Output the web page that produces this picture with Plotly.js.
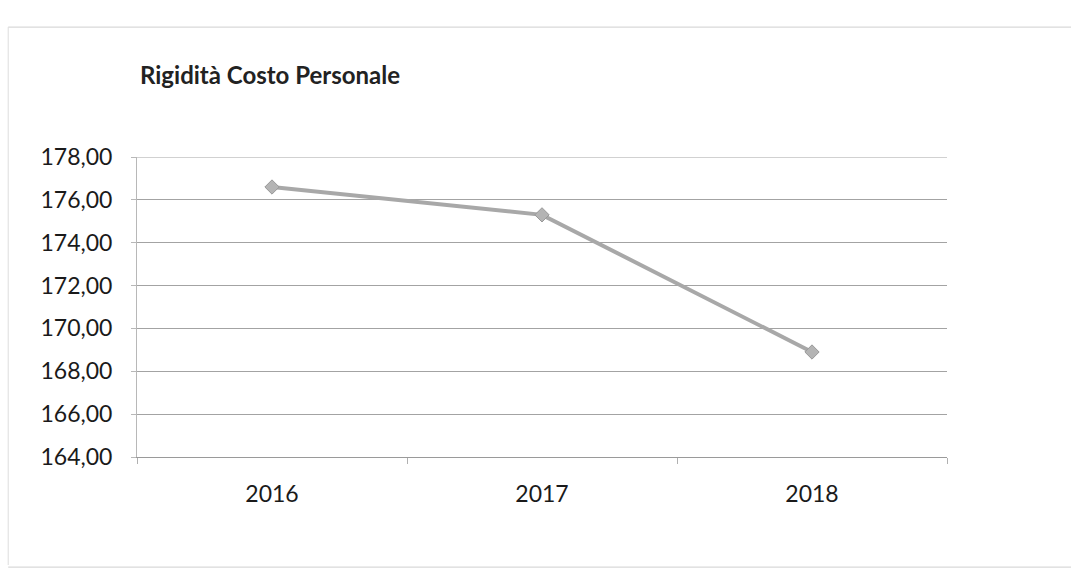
<!DOCTYPE html>
<html>
<head>
<meta charset="utf-8">
<script src="https://cdn.plot.ly/plotly-3.0.1.min.js"></script>
<style>html,body{margin:0;padding:0;background:#fff;}#chart{width:1071px;height:573px;}</style>
</head>
<body>
<div id="chart"></div>
<script>
const categories = ["2016", "2017", "2018"];
const values = [176.6, 175.3, 168.9];
const yTicks = [164, 166, 168, 170, 172, 174, 176, 178];
const chartTitle = "Rigidità Costo Personale";

const trace = {
  type: "scatter",
  mode: "lines+markers",
  x: categories,
  y: values,
  line: {color: "#a8a8a8", width: 4},
  marker: {symbol: "diamond", size: 11, color: "#b4b4b4", line: {color: "#999", width: 1}},
  hoverinfo: "x+y"
};

const fontFam = "Lato, 'Open Sans', sans-serif";
const layout = {
  width: 1071, height: 573,
  margin: {l: 137, r: 124, t: 157, b: 116},
  paper_bgcolor: "#ffffff",
  plot_bgcolor: "#ffffff",
  separators: ",.",
  showlegend: false,
  font: {family: fontFam, color: "#1a1a1a", size: 23},
  title: {
    text: "<b>" + chartTitle + "</b>",
    x: 140 / 1071, xref: "container", xanchor: "left",
    y: 0.868, yref: "container", yanchor: "middle",
    font: {family: fontFam, size: 24, color: "#222"}
  },
  xaxis: {
    type: "category",
    range: [-0.5, 2.5],
    showgrid: false,
    showline: true, linecolor: "#9a9a9a", linewidth: 1,
    ticks: "outside", tickson: "boundaries", ticklen: 6, tickcolor: "#b0b0b0",
    tickfont: {family: fontFam, size: 23, color: "#1a1a1a"},
    ticklabelstandoff: 16,
    zeroline: false
  },
  yaxis: {
    range: [164, 178],
    tickvals: yTicks,
    tickformat: ".2f",
    showgrid: true, gridcolor: "#a3a3a3", gridwidth: 1,
    showline: true, linecolor: "#b8b8b8", linewidth: 1,
    ticks: "outside", ticklen: 5, tickcolor: "#b8b8b8",
    tickfont: {family: fontFam, size: 23, color: "#1a1a1a"},
    ticklabelstandoff: 14,
    zeroline: false
  },
  shapes: [
    {type: "line", xref: "paper", yref: "y", x0: 0, x1: 1, y0: 178, y1: 178,
     line: {color: "#a3a3a3", width: 1}},
    {type: "line", xref: "paper", yref: "paper", x0: -0.159, x1: 1.2, y0: 1.433, y1: 1.433,
     line: {color: "#cfcfcf", width: 1}},
    {type: "line", xref: "paper", yref: "paper", x0: -0.159, x1: -0.159, y0: 1.433, y1: -0.36,
     line: {color: "#dddddd", width: 1}},
    {type: "line", xref: "paper", yref: "paper", x0: -0.159, x1: 1.2, y0: -0.367, y1: -0.367,
     line: {color: "#cfcfcf", width: 1}}
  ]
};

Plotly.newPlot("chart", [trace], layout, {displayModeBar: false, staticPlot: true});
</script>
</body>
</html>
